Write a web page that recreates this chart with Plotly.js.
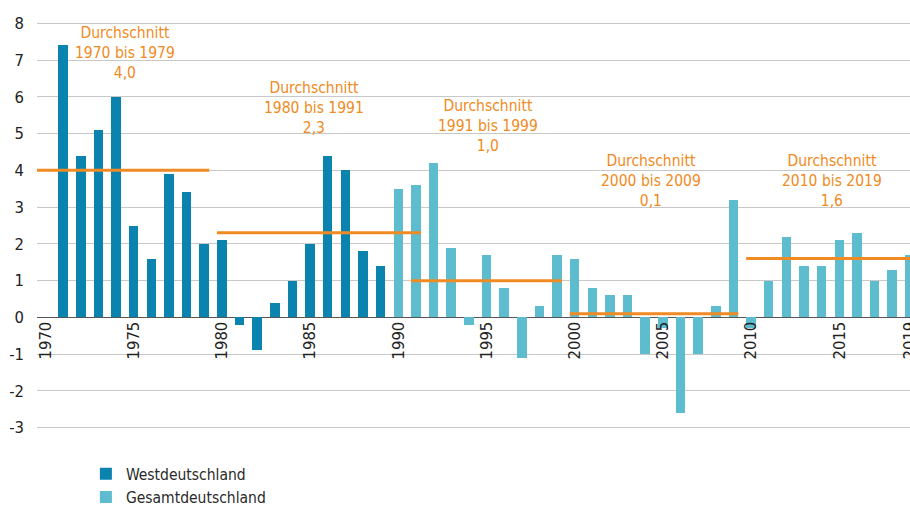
<!DOCTYPE html>
<html>
<head>
<meta charset="utf-8">
<script src="https://cdn.plot.ly/plotly-3.0.1.min.js"></script>
<style>
  html, body { margin: 0; padding: 0; background: #ffffff; }
  #chart { width: 910px; height: 509px; }
</style>
</head>
<body>
<div id="chart"></div>
<script>
// ---- data ----
const westYears = [1971, 1972, 1973, 1974, 1975, 1976, 1977, 1978, 1979, 1980,
                   1981, 1982, 1983, 1984, 1985, 1986, 1987, 1988, 1989];
const westValues = [7.4, 4.4, 5.1, 6.0, 2.5, 1.6, 3.9, 3.4, 2.0, 2.1,
                    -0.2, -0.9, 0.4, 1.0, 2.0, 4.4, 4.0, 1.8, 1.4];
const gesamtYears = [1990, 1991, 1992, 1993, 1994, 1995, 1996, 1997, 1998, 1999,
                     2000, 2001, 2002, 2003, 2004, 2005, 2006, 2007, 2008, 2009,
                     2010, 2011, 2012, 2013, 2014, 2015, 2016, 2017, 2018, 2019];
const gesamtValues = [3.5, 3.6, 4.2, 1.9, -0.2, 1.7, 0.8, -1.1, 0.3, 1.7,
                      1.6, 0.8, 0.6, 0.6, -1.0, -0.3, -2.6, -1.0, 0.3, 3.2,
                      -0.3, 1.0, 2.2, 1.4, 1.4, 2.1, 2.3, 1.0, 1.3, 1.7];
const avgFrom = [1970, 1980, 1991, 2000, 2010];
const avgTo = [1979, 1991, 1999, 2009, 2019];
const avgValues = [4.0, 2.3, 1.0, 0.1, 1.6];
const avgLabels = ["4,0", "2,3", "1,0", "0,1", "1,6"];
const xTickVals = [1970, 1975, 1980, 1985, 1990, 1995, 2000, 2005, 2010, 2015, 2019];
const xTickText = ["1970", "1975", "1980", "1985", "1990", "1995", "2000", "2005", "2010", "2015", "2019"];
const yTickVals = [-3, -2, -1, 0, 1, 2, 3, 4, 5, 6, 7, 8];
const yTickText = ["-3", "-2", "-1", "0", "1", "2", "3", "4", "5", "6", "7", "8"];
const seriesNames = ["Westdeutschland", "Gesamtdeutschland"];

// ---- style ----
const FONT = "'DejaVu Sans Condensed', 'DejaVu Sans', sans-serif";
const DARK = "#0a83ae";
const LIGHT = "#5dbccd";
const ORANGE = "#f08a22";
const BARW = 0.54;
const HALF = 0.28;
// label placement (center year, top value) for each average annotation
const labelPos = [[1974.5, 8.05], [1985.2, 6.55], [1995.1, 6.05], [2004.3, 4.55], [2014.6, 4.55]];

const yMin = -3.2, yMax = 8.2;

const traces = [
  {
    type: "bar", x: westYears, y: westValues, name: seriesNames[0],
    width: BARW, marker: { color: DARK, line: { width: 0 } }, hoverinfo: "x+y"
  },
  {
    type: "bar", x: gesamtYears, y: gesamtValues, name: seriesNames[1],
    width: BARW, marker: { color: LIGHT, line: { width: 0 } }, hoverinfo: "x+y"
  }
];

const annotations = [];
avgValues.forEach((v, i) => {
  traces.push({
    type: "scatter", mode: "lines",
    x: [avgFrom[i] - (i === 0 ? 0.5 : HALF), avgTo[i] + HALF], y: [v, v],
    line: { color: ORANGE, width: 3 }, showlegend: false, hoverinfo: "skip"
  });
  annotations.push({
    x: labelPos[i][0], y: labelPos[i][1], xref: "x", yref: "y",
    xanchor: "center", yanchor: "top", showarrow: false, align: "center",
    text: "Durchschnitt<br>" + avgFrom[i] + " bis " + avgTo[i] + "<br>" + avgLabels[i],
    font: { family: FONT, size: 15.5, color: ORANGE }
  });
});

const layout = {
  width: 910, height: 509,
  margin: { l: 37, r: 0, t: 16, b: 74, autoexpand: false },
  paper_bgcolor: "#ffffff", plot_bgcolor: "#ffffff",
  showlegend: true,
  legend: {
    x: 0.056, y: -0.053, xanchor: "left", yanchor: "top",
    orientation: "v", font: { family: FONT, size: 15.5, color: "#2a2a2a" },
    bgcolor: "rgba(0,0,0,0)"
  },
  xaxis: {
    range: [1969.52, 2019.01], anchor: "free",
    position: (0 - yMin) / (yMax - yMin),
    tickmode: "array", tickvals: xTickVals, ticktext: xTickText,
    tickangle: -90, ticks: "", showgrid: false, showline: false, zeroline: false,
    ticklabeloverflow: "allow",
    tickfont: { family: FONT, size: 16.5, color: "#222" }
  },
  yaxis: {
    range: [yMin, yMax],
    tickmode: "array", tickvals: yTickVals, ticktext: yTickText,
    ticks: "", ticklabelstandoff: 12,
    showgrid: true, gridcolor: "#c8c8c8", gridwidth: 1,
    zeroline: true, zerolinecolor: "#555555", zerolinewidth: 1,
    showline: false,
    tickfont: { family: FONT, size: 16.5, color: "#222" }
  },
  annotations: annotations,
  bargap: 0
};

Plotly.newPlot("chart", traces, layout, { displayModeBar: false, staticPlot: true });
</script>
</body>
</html>
